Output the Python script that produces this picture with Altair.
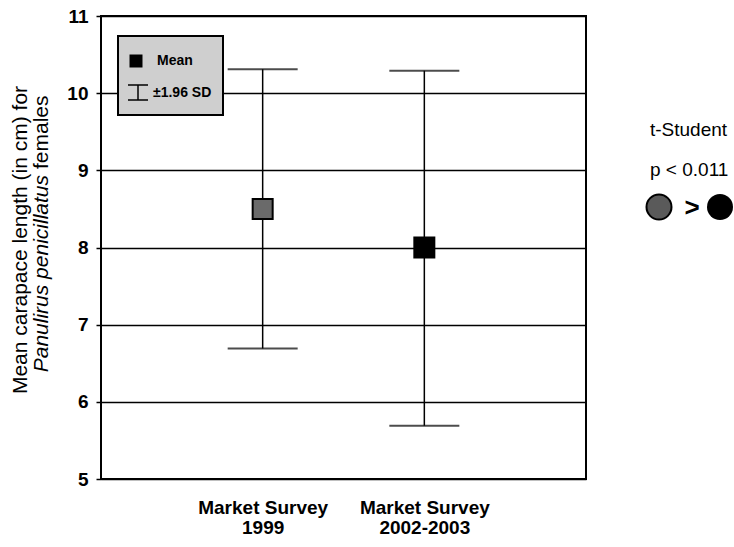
import altair as alt
import pandas as pd

# ---- data ----
surveys = ["Market Survey 1999", "Market Survey 2002-2003"]
means = [8.5, 8.0]
upper = [10.31, 10.29]
lower = [6.69, 5.69]
mean_fill = ["#6a6a6a", "#000000"]
y_ticks = [5, 6, 7, 8, 9, 10, 11]

FONT = "Liberation Sans"

df = pd.DataFrame({"survey": surveys, "mean": means, "upper": upper,
                   "lower": lower, "fill": mean_fill})
one = pd.DataFrame({"k": [0]})

label_expr = "[slice(datum.label, 0, 13), slice(datum.label, 14)]"

x_enc = alt.X("survey:N",
              scale=alt.Scale(type="point", padding=1, domain=surveys),
              axis=alt.Axis(title=None, ticks=False, domain=False, grid=False,
                            labelAngle=0, labelExpr=label_expr,
                            labelFont=FONT, labelFontSize=19, labelFontWeight="bold",
                            labelColor="black", labelPadding=19, labelLineHeight=20,
                            labelBaseline="top"))

y_scale = alt.Scale(domain=[5, 11], nice=False, zero=False)
y_axis = alt.Axis(title=None, values=y_ticks, format="d", grid=True, gridColor="black",
                  gridWidth=1.5, gridOpacity=1, domain=False, tickColor="black",
                  tickSize=5, tickWidth=1.5, labelFont=FONT, labelFontSize=19,
                  labelFontWeight="bold", labelColor="black", labelPadding=8)

base = alt.Chart(df)

bars = base.mark_rule(color="black", strokeWidth=1.5).encode(
    x=x_enc,
    y=alt.Y("lower:Q", scale=y_scale, axis=y_axis),
    y2="upper:Q",
)
cap_hi = base.mark_tick(orient="horizontal", size=70, thickness=2, color="black").encode(
    x=alt.X("survey:N"), y=alt.Y("upper:Q"))
cap_lo = base.mark_tick(orient="horizontal", size=70, thickness=2, color="black").encode(
    x=alt.X("survey:N"), y=alt.Y("lower:Q"))
pts = base.mark_square(size=400, opacity=1, stroke="black", strokeWidth=2).encode(
    x=alt.X("survey:N"), y=alt.Y("mean:Q"),
    fill=alt.Fill("fill:N", scale=None))

# ---- legend box (inside plot, top-left) ----
lg = alt.Chart(one)
box = lg.mark_rect(fill="#cfcfcf", stroke="black", strokeWidth=2).encode(
    x=alt.value(17), x2=alt.value(122), y=alt.value(20), y2=alt.value(99))
lg_sq = lg.mark_square(size=169, color="black", opacity=1).encode(
    x=alt.value(35), y=alt.value(45))
lg_mean = lg.mark_text(text="Mean", font=FONT, fontSize=14, fontWeight="bold",
                       align="left", baseline="middle", color="black").encode(
    x=alt.value(56), y=alt.value(45))
lg_v = lg.mark_rule(color="black", strokeWidth=1.5).encode(
    x=alt.value(37), y=alt.value(69), y2=alt.value(84))
lg_t = lg.mark_rule(color="black", strokeWidth=1.5).encode(
    x=alt.value(27), x2=alt.value(47), y=alt.value(69))
lg_b = lg.mark_rule(color="black", strokeWidth=1.5).encode(
    x=alt.value(27), x2=alt.value(47), y=alt.value(84))
lg_sd = lg.mark_text(text="±1.96 SD", font=FONT, fontSize=14, fontWeight="bold",
                     align="left", baseline="middle", color="black").encode(
    x=alt.value(52), y=alt.value(77))

# ---- y-axis title (two lines, part italic) ----
t1 = lg.mark_text(text="Mean carapace length (in cm) for", font=FONT, fontSize=21,
                  angle=270, align="center", baseline="middle", color="black").encode(
    x=alt.value(-80), y=alt.value(224))
t2a = lg.mark_text(text="Panulirus penicillatus", font=FONT, fontSize=21,
                   fontStyle="italic", angle=270, align="right", baseline="middle",
                   color="black").encode(x=alt.value(-59), y=alt.value(159))
t2b = lg.mark_text(text="females", font=FONT, fontSize=21,
                   angle=270, align="left", baseline="middle",
                   color="black").encode(x=alt.value(-59), y=alt.value(153))

# ---- right-hand annotation ----
a1 = lg.mark_text(text="t-Student", font=FONT, fontSize=19, align="left",
                  baseline="middle", color="black").encode(x=alt.value(549), y=alt.value(114))
a2 = lg.mark_text(text="p < 0.011", font=FONT, fontSize=19, align="left",
                  baseline="middle", color="black").encode(x=alt.value(549), y=alt.value(154))
c1 = lg.mark_point(shape="circle", size=625, filled=True, fill="#5a5a5a",
                   stroke="black", strokeWidth=2, opacity=1).encode(
    x=alt.value(558), y=alt.value(191))
gt = lg.mark_text(text=">", font=FONT, fontSize=26, fontWeight="bold", align="center",
                  baseline="middle", color="black").encode(x=alt.value(591), y=alt.value(192))
c2 = lg.mark_point(shape="circle", size=676, filled=True, fill="black",
                   opacity=1).encode(x=alt.value(619), y=alt.value(191))

chart = alt.layer(
    bars, cap_hi, cap_lo, pts,
    box, lg_sq, lg_mean, lg_v, lg_t, lg_b, lg_sd,
    t1, t2a, t2b, a1, a2, c1, gt, c2,
).properties(
    width=485, height=463,
    autosize=alt.AutoSizeParams(type="none"),
    padding={"left": 101, "top": 16, "right": 148, "bottom": 68},
    background="white",
).configure_view(stroke="black", strokeWidth=2)

chart.save("out.html", embed_options={"renderer": "svg", "actions": False})
